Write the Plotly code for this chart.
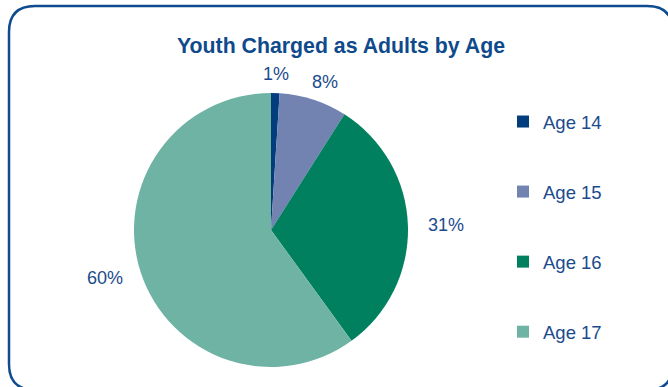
import math
import plotly.graph_objects as go

# Age breakdown of youth charged as adults (percent of total)
ages = ["Age 14", "Age 15", "Age 16", "Age 17"]
shares = [1, 8, 31, 60]
colors = ["#023D7E", "#7283B1", "#00805F", "#6FB3A4"]

W, H = 668, 387
TEXT_BLUE = "#1B4B8C"
FONT = "Liberation Sans, Arial, sans-serif"

# pie placement in pixels -> paper domain
cx, cy, r = 271, 230, 137
dom_x = [(cx - r) / W, (cx + r) / W]
dom_y = [1 - (cy + r) / H, 1 - (cy - r) / H]

fig = go.Figure()
fig.add_trace(go.Pie(
    labels=ages,
    values=shares,
    marker=dict(colors=colors, line=dict(width=0)),
    sort=False,
    direction="clockwise",
    rotation=0,
    textinfo="none",
    hoverinfo="label+percent",
    showlegend=False,
    domain=dict(x=dom_x, y=dom_y),
))

# legend entries as square markers, one group each for wide spacing
for name, col in zip(ages, colors):
    fig.add_trace(go.Scatter(
        x=[None], y=[None], mode="markers", name=name,
        legendgroup=name,
        marker=dict(symbol="square", size=12, color=col),
    ))

# percentage labels placed outside each slice at its mid-angle
total = sum(shares)
annotations = []
cum = 0
for v in shares:
    mid = (cum + v / 2) / total * 2 * math.pi
    cum += v
    lx = cx + (r + 38) * math.sin(mid)
    ly = cy - (r + 19) * math.cos(mid)
    annotations.append(dict(
        x=lx / W, y=1 - ly / H, xref="paper", yref="paper",
        text=f"{v}%", showarrow=False, xanchor="center", yanchor="middle",
        font=dict(family=FONT, size=18, color=TEXT_BLUE),
    ))

# rounded frame around the chart
x0, x1 = 9 / W, 673 / W
y0, y1 = 1 - 390 / H, 1 - 6 / H
rx, ry = 26 / W, 26 / H
frame = (
    f"M {x0 + rx},{y1} L {x1 - rx},{y1} Q {x1},{y1} {x1},{y1 - ry} "
    f"L {x1},{y0 + ry} Q {x1},{y0} {x1 - rx},{y0} "
    f"L {x0 + rx},{y0} Q {x0},{y0} {x0},{y0 + ry} "
    f"L {x0},{y1 - ry} Q {x0},{y1} {x0 + rx},{y1} Z"
)

fig.update_layout(
    width=W, height=H,
    margin=dict(l=0, r=0, t=0, b=0),
    paper_bgcolor="white", plot_bgcolor="white",
    font=dict(family=FONT, color=TEXT_BLUE),
    title=dict(
        text="<b>Youth Charged as Adults by Age</b>",
        x=341 / W, y=1 - 46 / H, xanchor="center", yanchor="middle",
        font=dict(family=FONT, size=21.3, color="#0F4A8C"),
    ),
    xaxis=dict(visible=False), yaxis=dict(visible=False),
    legend=dict(
        x=503 / W, y=1 - 103 / H, xanchor="left", yanchor="top",
        font=dict(family=FONT, size=18.5, color=TEXT_BLUE),
        tracegroupgap=43, bgcolor="rgba(0,0,0,0)",
    ),
    annotations=annotations,
    shapes=[dict(type="path", path=frame, xref="paper", yref="paper",
                 line=dict(color="#0F4C8F", width=2.5))],
)

fig.write_html("out.html")
